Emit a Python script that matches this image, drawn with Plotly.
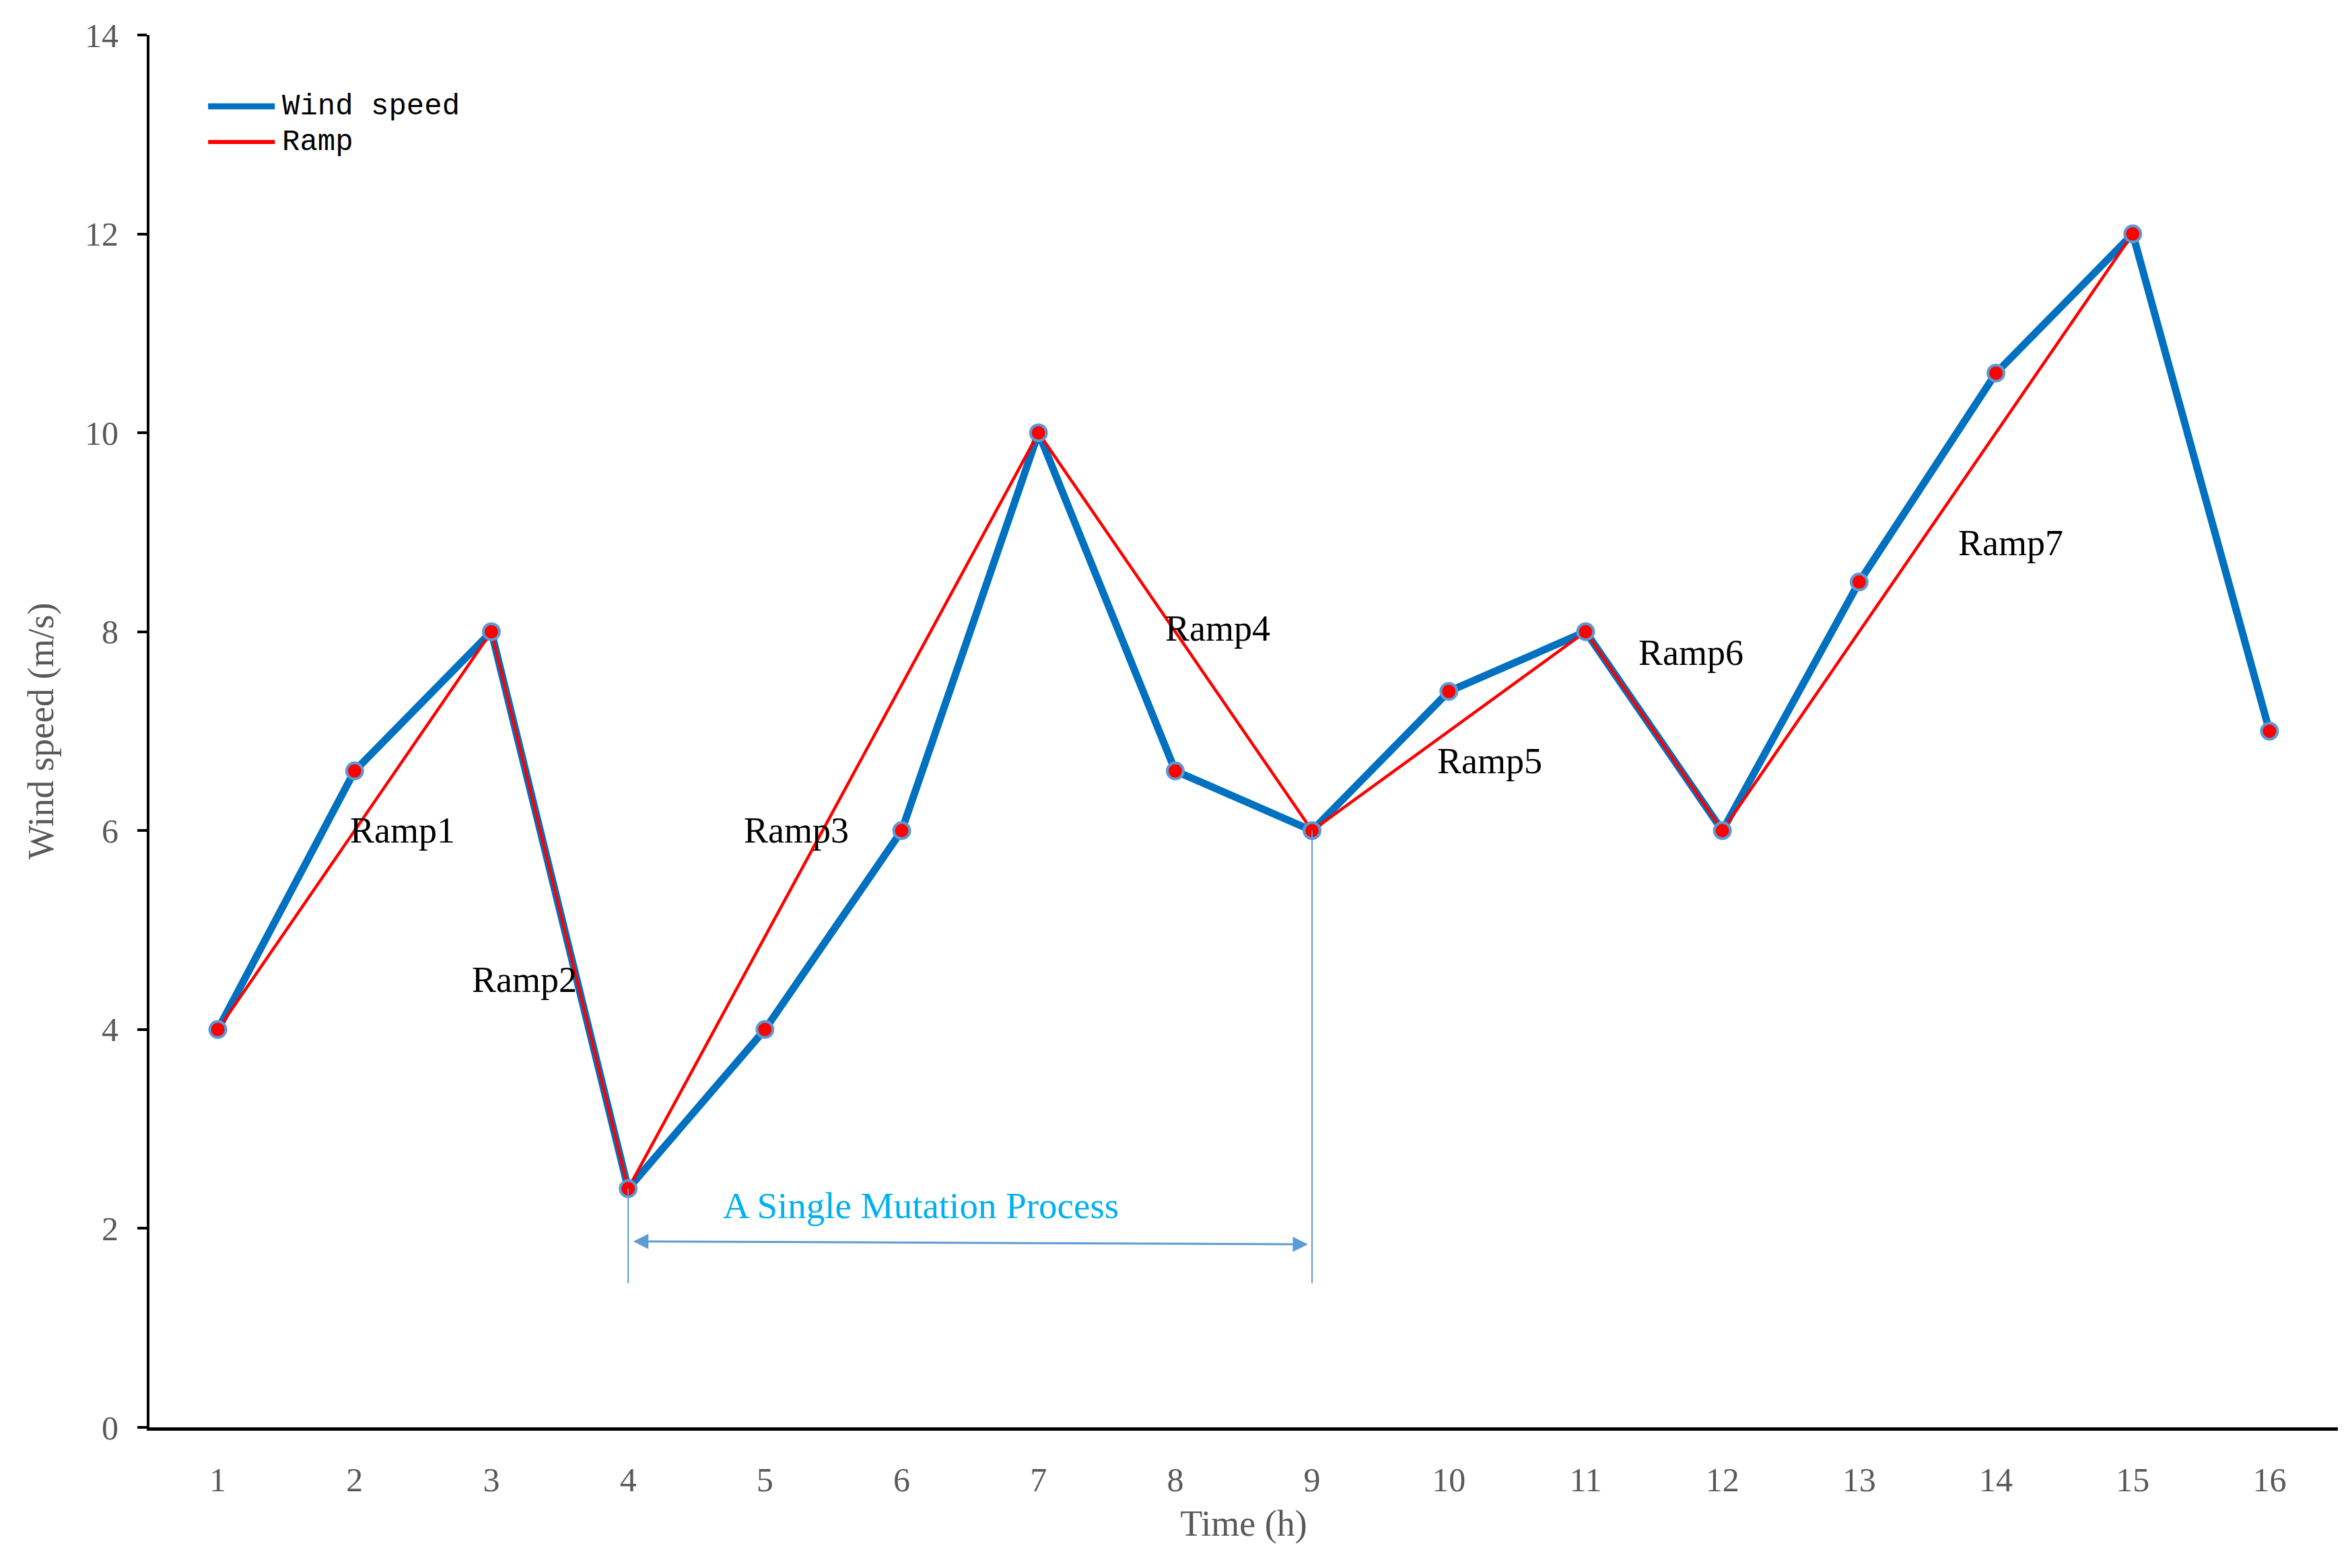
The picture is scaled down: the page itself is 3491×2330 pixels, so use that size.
import plotly.graph_objects as go

# ---- data ----
hours = list(range(1, 17))
wind_speed = [4, 6.6, 8, 2.4, 4, 6, 10, 6.6, 6, 7.4, 8, 6, 8.5, 10.6, 12, 7]
ramp_hours = [1, 3, 4, 7, 9, 11, 12, 15]
ramp_values = [4, 8, 2.4, 10, 6, 8, 6, 12]
ramp_labels = ["Ramp1", "Ramp2", "Ramp3", "Ramp4", "Ramp5", "Ramp6", "Ramp7"]
y_ticks = [0, 2, 4, 6, 8, 10, 12, 14]
series_names = ["Wind speed", "Ramp"]
mutation_start, mutation_end = 4, 9
mutation_text = "A Single Mutation Process"

# ---- styles ----
BLUE = "#0070C0"
RED = "#FF0000"
LIGHTBLUE = "#5B9BD5"
GRAY = "#595959"
SERIF = "Liberation Serif, Times New Roman, serif"
MONO = "Liberation Mono, Courier New, monospace"

fig = go.Figure()
fig.add_trace(go.Scatter(x=hours, y=wind_speed, mode="lines", name=series_names[0],
                         showlegend=False, line=dict(color=BLUE, width=11)))
fig.add_trace(go.Scatter(x=ramp_hours, y=ramp_values, mode="lines", name=series_names[1],
                         showlegend=False, line=dict(color=RED, width=4.5)))
fig.add_trace(go.Scatter(x=hours, y=wind_speed, mode="markers", showlegend=False,
                         name=series_names[0] + " points",
                         marker=dict(color=RED, size=24,
                                     line=dict(color=LIGHTBLUE, width=4))))

# ramp label positions (x, y) in data units
label_pos = [(2.35, 6.0), (3.24, 4.5), (5.23, 6.0), (8.31, 8.03),
             (10.30, 6.7), (11.77, 7.79), (14.11, 8.89)]
for txt, (lx, ly) in zip(ramp_labels, label_pos):
    fig.add_annotation(x=lx, y=ly, text=txt, showarrow=False,
                       font=dict(family=SERIF, size=54, color="black"))

# mutation process annotation
i0 = hours.index(mutation_start)
i1 = hours.index(mutation_end)
for i in (i0, i1):
    fig.add_shape(type="line", x0=hours[i], x1=hours[i], y0=wind_speed[i], y1=1.45,
                  xref="x", yref="y", line=dict(color=LIGHTBLUE, width=2))
fig.add_annotation(x=mutation_end - 0.03, y=1.84, ax=mutation_start + 0.03, ay=1.87,
                   xref="x", yref="y", axref="x", ayref="y", text="",
                   showarrow=True, arrowside="end+start", arrowhead=2,
                   arrowsize=1.5, arrowwidth=3, arrowcolor=LIGHTBLUE)
fig.add_annotation(x=6.14, y=2.23, text=mutation_text, showarrow=False,
                   font=dict(family=SERIF, size=55, color="#00B0F0"))

# legend (drawn in paper space so the sample lines match the original length)
legend_items = [(series_names[0], BLUE, 9, 0.9488), (series_names[1], RED, 6, 0.9231)]
for name, col, w, ly in legend_items:
    fig.add_shape(type="line", xref="paper", yref="paper", x0=0.0268, x1=0.0573,
                  y0=ly, y1=ly, line=dict(color=col, width=w))
    fig.add_annotation(xref="paper", yref="paper", x=0.0600, y=ly, text=name,
                       showarrow=False, xanchor="left", yanchor="middle",
                       font=dict(family=MONO, size=44, color="black"))

fig.update_layout(
    width=3491, height=2330,
    margin=dict(l=214, r=26, t=44, b=217),
    paper_bgcolor="white", plot_bgcolor="white",
    showlegend=False,
)
fig.update_xaxes(
    range=[0.5, 16.5], tickvals=hours, ticktext=[str(h) for h in hours],
    showgrid=False, zeroline=False, showline=True, linecolor="black", linewidth=5,
    ticks="", ticklabelstandoff=30,
    tickfont=dict(family=SERIF, size=50, color=GRAY),
    title=dict(text="Time (h)", font=dict(family=SERIF, size=54, color=GRAY), standoff=20),
)
fig.update_yaxes(
    range=[0, 14], tickvals=y_ticks,
    showgrid=False, zeroline=False, showline=True, linecolor="black", linewidth=4,
    ticks="outside", ticklen=14, tickwidth=4, tickcolor="black", ticklabelstandoff=18,
    tickfont=dict(family=SERIF, size=50, color=GRAY),
    title=dict(text="Wind speed (m/s)", font=dict(family=SERIF, size=54, color=GRAY), standoff=30),
)

fig.write_html("out.html")
